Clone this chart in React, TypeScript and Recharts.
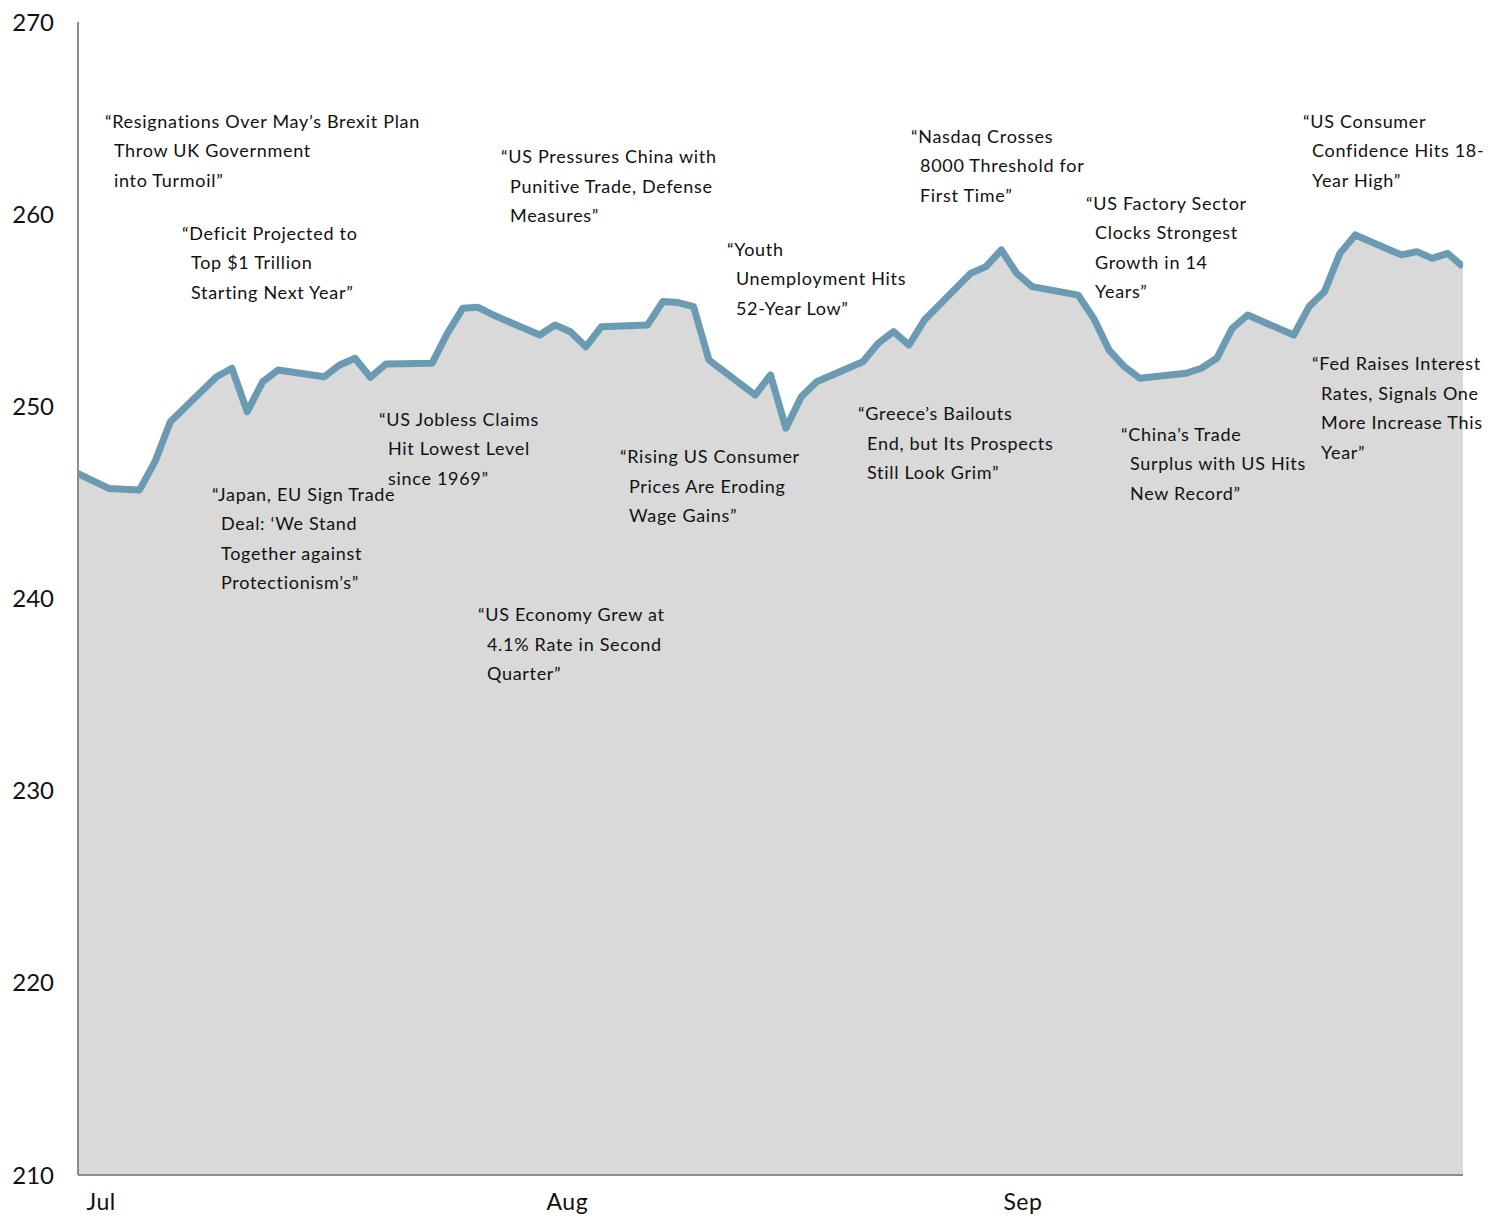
import React from 'react';
import { AreaChart, Area, XAxis, YAxis, ReferenceDot } from 'recharts';

// trading days (weekdays) Jul–Sep 2018; first point sits just left of the axis and gets clipped
const dates = [
  '2018-06-29', '2018-07-02', '2018-07-03', '2018-07-04', '2018-07-05', '2018-07-06',
  '2018-07-09', '2018-07-10', '2018-07-11', '2018-07-12', '2018-07-13',
  '2018-07-16', '2018-07-17', '2018-07-18', '2018-07-19', '2018-07-20',
  '2018-07-23', '2018-07-24', '2018-07-25', '2018-07-26', '2018-07-27',
  '2018-07-30', '2018-07-31', '2018-08-01', '2018-08-02', '2018-08-03',
  '2018-08-06', '2018-08-07', '2018-08-08', '2018-08-09', '2018-08-10',
  '2018-08-13', '2018-08-14', '2018-08-15', '2018-08-16', '2018-08-17',
  '2018-08-20', '2018-08-21', '2018-08-22', '2018-08-23', '2018-08-24',
  '2018-08-27', '2018-08-28', '2018-08-29', '2018-08-30', '2018-08-31',
  '2018-09-03', '2018-09-04', '2018-09-05', '2018-09-06', '2018-09-07',
  '2018-09-10', '2018-09-11', '2018-09-12', '2018-09-13', '2018-09-14',
  '2018-09-17', '2018-09-18', '2018-09-19', '2018-09-20', '2018-09-21',
  '2018-09-24', '2018-09-25', '2018-09-26', '2018-09-27', '2018-09-28',
];

const prices = [
  246.88, 245.73, 245.68, 245.65, 247.12, 249.2,
  251.54, 251.98, 249.72, 251.28, 251.89,
  251.54, 252.15, 252.5, 251.51, 252.2,
  252.24, 253.8, 255.1, 255.15, 254.75,
  253.71, 254.23, 253.88, 253.1, 254.14,
  254.23, 255.45, 255.4, 255.19, 252.41,
  250.59, 251.63, 248.86, 250.5, 251.28,
  252.32, 253.28, 253.89, 253.19, 254.49,
  256.92, 257.27, 258.14, 256.92, 256.23,
  255.79, 254.58, 252.93, 252.06, 251.46,
  251.72, 251.98, 252.5, 254.06, 254.75,
  253.71, 255.19, 255.97, 257.96, 258.92,
  257.88, 258.05, 257.7, 257.96, 257.27,
];

const startDate = '2018-06-30';
const endDate = '2018-09-28';

const monthTickDays = [1.5, 31.8, 61.4];
const monthLabels = ['Jul', 'Aug', 'Sep'];

const yTicks = [210, 220, 230, 240, 250, 260, 270];

// headline annotations, anchored at (day, value) of their first line
const annotationDays = [1.75, 6.76, 8.71, 19.56, 27.49, 25.99, 35.22, 42.17, 54.13, 50.69, 65.5, 67.78, 79.6, 80.19];
const annotationValues = [264.8, 258.97, 245.39, 249.29, 262.97, 239.14, 247.36, 258.14, 264.02, 249.6, 260.53, 248.51, 264.8, 252.2];
const annotationLines = [
  ['“Resignations Over May’s Brexit Plan', 'Throw UK Government', 'into Turmoil”'],
  ['“Deficit Projected to', 'Top $1 Trillion', 'Starting Next Year”'],
  ['“Japan, EU Sign Trade', 'Deal: ‘We Stand', 'Together against', 'Protectionism’s”'],
  ['“US Jobless Claims', 'Hit Lowest Level', 'since 1969”'],
  ['“US Pressures China with', 'Punitive Trade, Defense', 'Measures”'],
  ['“US Economy Grew at', '4.1% Rate in Second', 'Quarter”'],
  ['“Rising US Consumer', 'Prices Are Eroding', 'Wage Gains”'],
  ['“Youth', 'Unemployment Hits', '52-Year Low”'],
  ['“Nasdaq Crosses', '8000 Threshold for', 'First Time”'],
  ['“Greece’s Bailouts', 'End, but Its Prospects', 'Still Look Grim”'],
  ['“US Factory Sector', 'Clocks Strongest', 'Growth in 14', 'Years”'],
  ['“China’s Trade', 'Surplus with US Hits', 'New Record”'],
  ['“US Consumer', 'Confidence Hits 18-', 'Year High”'],
  ['“Fed Raises Interest', 'Rates, Signals One', 'More Increase This', 'Year”'],
];

const FONT = 'Lato, "Noto Sans", sans-serif';
const DAY_MS = 24 * 60 * 60 * 1000;
const toDay = (s: string) => Math.round((Date.parse(s) - Date.parse(startDate)) / DAY_MS);

const chartData = dates.map((d, i) => ({ day: toDay(d), price: prices[i] }));

const XTick = ({ x, y, payload }: any) => {
  const idx = monthTickDays.indexOf(payload.value);
  return (
    <text x={x} y={y + 35} textAnchor="middle" fontSize={23} fill="#111" fontFamily={FONT} letterSpacing={0.5}>
      {monthLabels[idx]}
    </text>
  );
};

const YTick = ({ x, y, payload }: any) => (
  <text x={x - 24} y={y + 8.5} textAnchor="end" fontSize={24} fill="#111" fontFamily={FONT}>
    {payload.value}
  </text>
);

const Headline = ({ cx, cy, lines }: any) => (
  <text fontSize={18} fill="#111" fontFamily={FONT} letterSpacing={0.7}>
    {lines.map((t: string, i: number) => (
      <tspan key={i} x={cx + (i === 0 ? 0 : 9)} y={cy + 6 + i * 29.5}>
        {t}
      </tspan>
    ))}
  </text>
);

export default function App() {
  return (
    <div style={{ width: 1480, height: 1208 }}>
      <AreaChart width={1480} height={1208} data={chartData} margin={{ top: 14, right: 25, left: 0, bottom: 0 }}>
        <XAxis
          type="number"
          dataKey="day"
          domain={[0, toDay(endDate)]}
          allowDataOverflow
          ticks={monthTickDays}
          tick={<XTick />}
          tickLine={false}
          tickSize={0}
          tickMargin={0}
          height={41}
          axisLine={{ stroke: '#8c8c8c', strokeWidth: 2 }}
        />
        <YAxis
          type="number"
          domain={[210, 270]}
          ticks={yTicks}
          tick={<YTick />}
          tickLine={false}
          tickSize={0}
          tickMargin={0}
          width={70}
          axisLine={{ stroke: '#8c8c8c', strokeWidth: 2 }}
        />
        <Area
          type="linear"
          dataKey="price"
          stroke="#6a9bb2"
          strokeWidth={7}
          strokeLinejoin="round"
          fill="#d9d9d9"
          fillOpacity={1}
          isAnimationActive={false}
          dot={false}
          activeDot={false}
        />
        {annotationLines.map((lines, i) => (
          <ReferenceDot
            key={i}
            x={annotationDays[i]}
            y={annotationValues[i]}
            r={0}
            ifOverflow="visible"
            shape={(p: any) => <Headline cx={p.cx} cy={p.cy} lines={lines} />}
          />
        ))}
      </AreaChart>
    </div>
  );
}
